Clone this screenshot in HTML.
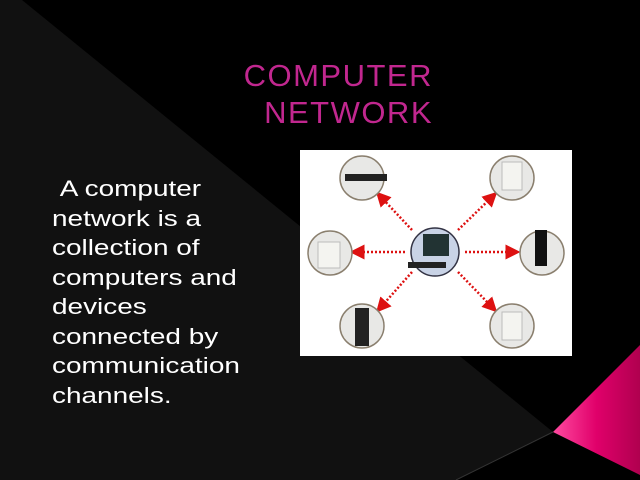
<!DOCTYPE html>
<html><head><style>
body{margin:0;width:640px;height:480px;overflow:hidden;background:#000;font-family:"Liberation Sans",sans-serif;position:relative}
.t{position:absolute;color:#c1278f;font-size:31px;line-height:37px;text-align:right;left:150px;width:283px;top:57px;letter-spacing:1.5px}
.b{position:absolute;color:#fff;font-size:22px;line-height:29.5px;left:52px;top:174px;transform:scaleX(1.27);transform-origin:0 0;white-space:nowrap}
</style></head><body>
<svg width="640" height="480" style="position:absolute;left:0;top:0">
<defs><linearGradient id="pk" x1="0" y1="0" x2="1" y2="0"><stop offset="0" stop-color="#ff4aa0"/><stop offset="0.5" stop-color="#e0006a"/><stop offset="1" stop-color="#b0004f"/></linearGradient>
<marker id="a" markerWidth="6" markerHeight="6" refX="3" refY="3" orient="auto"><path d="M0,0L6,3L0,6z" fill="#d11"/></marker></defs>
<polygon points="0,0 22,0 553,432 456,480 0,480" fill="#111"/>
<line x1="553" y1="432" x2="456" y2="480" stroke="#333" stroke-width="1"/>
<polygon points="640,345 553,432 640,475" fill="url(#pk)"/>
<rect x="300" y="150" width="272" height="206" fill="#fff"/>
<g stroke="#d11" stroke-width="2.5" stroke-dasharray="2,2" marker-end="url(#a)">
<line x1="412" y1="230" x2="381" y2="197"/>
<line x1="458" y1="230" x2="492" y2="197"/>
<line x1="405" y1="252" x2="357" y2="252"/>
<line x1="465" y1="252" x2="513" y2="252"/>
<line x1="412" y1="272" x2="381" y2="307"/>
<line x1="458" y1="272" x2="492" y2="307"/>
</g>
<g fill="#e8e8e6" stroke="#8a7f6e" stroke-width="1.5">
<circle cx="362" cy="178" r="22"/><circle cx="512" cy="178" r="22"/>
<circle cx="330" cy="253" r="22"/><circle cx="542" cy="253" r="22"/>
<circle cx="362" cy="326" r="22"/><circle cx="512" cy="326" r="22"/>
<circle cx="435" cy="252" r="24" fill="#c9d3e6" stroke="#334"/>
</g>
<rect x="345" y="174" width="42" height="7" fill="#222"/>
<rect x="502" y="162" width="20" height="28" fill="#f4f4f0" stroke="#bbb"/>
<rect x="318" y="242" width="22" height="26" fill="#f4f4f0" stroke="#bbb"/>
<rect x="535" y="230" width="12" height="36" fill="#111"/>
<rect x="355" y="308" width="14" height="38" fill="#222"/>
<rect x="502" y="312" width="20" height="28" fill="#f4f4f0" stroke="#bbb"/>
<rect x="423" y="234" width="26" height="22" fill="#233"/>
<rect x="408" y="262" width="38" height="6" fill="#222"/>
</svg>
<div class="t">COMPUTER<br>NETWORK</div>
<div class="b">&nbsp;A computer<br>network is a<br>collection of<br>computers and<br>devices<br>connected by<br>communication<br>channels.</div>
</body></html>
